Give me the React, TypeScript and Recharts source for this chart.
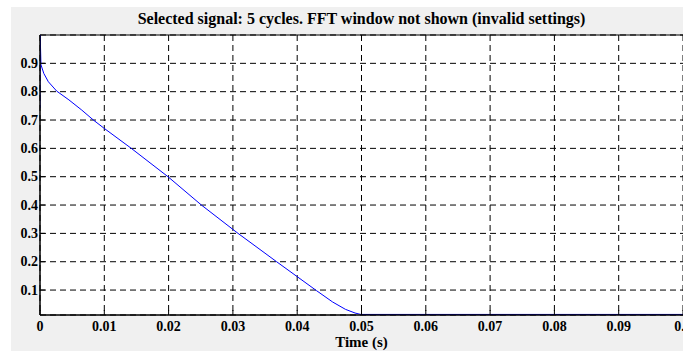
import React from 'react';
import { LineChart, Line, XAxis, YAxis, CartesianGrid, ReferenceLine } from 'recharts';

const time = [0, 0.00003, 0.00015, 0.0006, 0.0013, 0.0026, 0.0045, 0.0065, 0.0083, 0.0099, 0.0142, 0.0199, 0.0251, 0.0308, 0.0368, 0.043, 0.0455, 0.0475, 0.049, 0.0498, 0.05, 0.1];
const signal = [0.742, 1.0, 0.895, 0.864, 0.835, 0.802, 0.771, 0.735, 0.7, 0.672, 0.6, 0.5, 0.4, 0.3, 0.2, 0.098, 0.058, 0.032, 0.019, 0.0145, 0.014, 0.014];
const xTicks = [0, 0.01, 0.02, 0.03, 0.04, 0.05, 0.06, 0.07, 0.08, 0.09, 0.1];
const xTickLabels = ['0', '0.01', '0.02', '0.03', '0.04', '0.05', '0.06', '0.07', '0.08', '0.09', '0.1'];
const yTicks = [0.1, 0.2, 0.3, 0.4, 0.5, 0.6, 0.7, 0.8, 0.9];
const yTickLabels = ['0.1', '0.2', '0.3', '0.4', '0.5', '0.6', '0.7', '0.8', '0.9'];
const titleText = 'Selected signal: 5 cycles. FFT window not shown (invalid settings)';
const xLabelText = 'Time (s)';

const data = time.map((t, i) => ({ t, v: signal[i] }));

const FONT = "'Liberation Serif', 'Times New Roman', serif";

const XTick = (props: any) => {
  const { x, y, index } = props;
  return (
    <g>
      <line x1={x} y1={y} x2={x} y2={y - 5} stroke="#000" strokeWidth={1} />
      <text x={x} y={y + 16} textAnchor="middle" style={{ fontFamily: FONT, fontWeight: 'bold', fontSize: 14 }} fill="#000">
        {xTickLabels[index]}
      </text>
    </g>
  );
};

const YTick = (props: any) => {
  const { x, y, index } = props;
  return (
    <g>
      <line x1={x} y1={y} x2={x + 5} y2={y} stroke="#000" strokeWidth={1} />
      <text x={x - 2} y={y + 4.5} textAnchor="end" style={{ fontFamily: FONT, fontWeight: 'bold', fontSize: 14 }} fill="#000">
        {yTickLabels[index]}
      </text>
    </g>
  );
};

export default function App() {
  return (
    <div style={{ position: 'absolute', left: 11, top: 7, width: 672, height: 344, background: '#f0f0f0', overflow: 'hidden' }}>
      <div style={{ position: 'absolute', left: 29, width: 643, top: 3, textAlign: 'center', fontFamily: FONT, fontWeight: 'bold', fontSize: 16, lineHeight: '18px', color: '#000', whiteSpace: 'nowrap' }}>
        {titleText}
      </div>
      <div style={{ position: 'absolute', left: 29, width: 643, top: 328, textAlign: 'center', fontFamily: FONT, fontWeight: 'bold', fontSize: 15, lineHeight: '15px', color: '#000', whiteSpace: 'nowrap' }}>
        {xLabelText}
      </div>
      <div style={{ position: 'absolute', left: 0, top: 0 }}>
        <LineChart width={672} height={344} data={data} margin={{ top: 28, right: 0, left: 0, bottom: 0 }}>
          <CartesianGrid stroke="#000" strokeDasharray="6 4" strokeWidth={1} fill="#fff" fillOpacity={1} />
          <XAxis
            dataKey="t"
            type="number"
            domain={[0, 0.1]}
            ticks={xTicks}
            height={36}
            tickSize={0}
            tickMargin={0}
            tick={<XTick />}
            axisLine={{ stroke: '#000', strokeWidth: 1.5 }}
            interval={0}
            allowDataOverflow
          />
          <YAxis
            type="number"
            domain={[0.012, 1]}
            ticks={yTicks}
            width={29}
            tickSize={0}
            tickMargin={0}
            tick={<YTick />}
            axisLine={{ stroke: '#000', strokeWidth: 1.5 }}
            interval={0}
            allowDataOverflow
          />
          <ReferenceLine y={1} stroke="#000" strokeWidth={1} />
          <Line dataKey="v" type="linear" stroke="#0000ff" strokeWidth={1} dot={false} isAnimationActive={false} />
        </LineChart>
      </div>
    </div>
  );
}
